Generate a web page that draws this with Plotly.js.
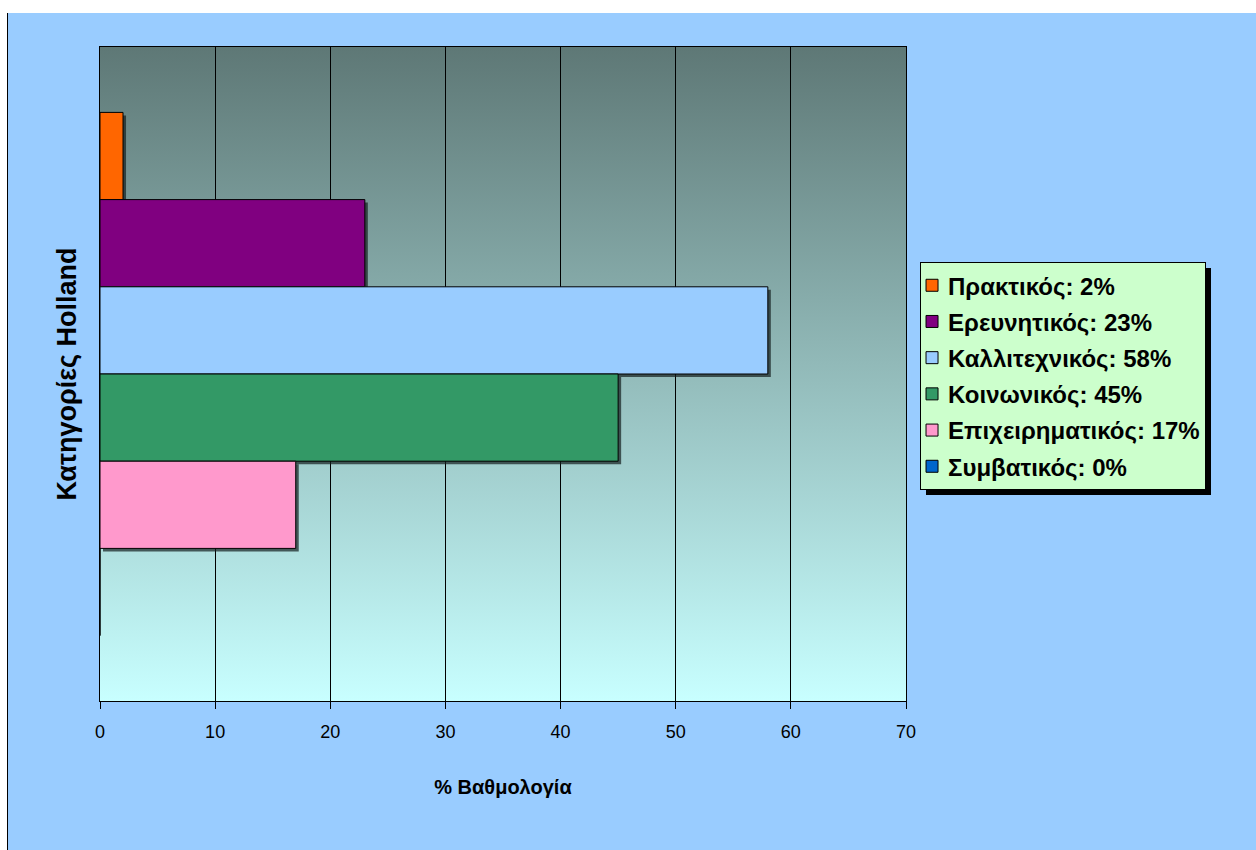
<!DOCTYPE html>
<html>
<head>
<meta charset="utf-8">
<script src="https://cdn.plot.ly/plotly-3.0.1.min.js"></script>
<style>
  html, body { margin:0; padding:0; background:#ffffff; width:1256px; height:850px; overflow:hidden; }
  #wrap { position:absolute; left:7px; top:13px; border-left:1px solid #000; }
  #plot { width:1248px; height:837px; }
</style>
</head>
<body>
<div id="wrap"><div id="plot"></div></div>
<script>
// ---- data ----
const categories = ['Holland'];
const seriesNames = ['Πρακτικός', 'Ερευνητικός', 'Καλλιτεχνικός', 'Κοινωνικός', 'Επιχειρηματικός', 'Συμβατικός'];
const seriesValues = [2, 23, 58, 45, 17, 0];
const seriesColors = ['#FF6600', '#800080', '#99CCFF', '#339966', '#FF99CC', '#0066CC'];
const xTickValues = [0, 10, 20, 30, 40, 50, 60, 70];

const FONT = '"Liberation Sans", Arial, sans-serif';

const traces = seriesNames.map((name, i) => ({
  type: 'bar',
  orientation: 'h',
  name: name + ': ' + seriesValues[i] + '%',
  legendgroup: 'g' + i,
  y: categories,
  x: [seriesValues[i]],
  marker: { color: seriesColors[i], line: { color: '#000000', width: 1 } },
  hoverinfo: 'x+name'
}));

const gradSvg = '<svg xmlns="http://www.w3.org/2000/svg" width="100" height="100" preserveAspectRatio="none">' +
  '<defs><linearGradient id="g" x1="0" y1="0" x2="0" y2="1">' +
  '<stop offset="0" stop-color="#5E7876"/><stop offset="1" stop-color="#C8FFFF"/>' +
  '</linearGradient></defs><rect width="100" height="100" fill="url(#g)"/></svg>';
const gradUri = 'data:image/svg+xml;base64,' + btoa(gradSvg);

const layout = {
  width: 1248,
  height: 837,
  margin: { l: 92, r: 350, t: 34, b: 149 },
  paper_bgcolor: '#99CCFF',
  plot_bgcolor: 'rgba(0,0,0,0)',
  barmode: 'group',
  bargap: 0.2,
  bargroupgap: 0,
  font: { family: FONT, color: '#000000', size: 18 },
  showlegend: true,
  legend: {
    x: 1.0174, xanchor: 'left',
    y: 0.671, yanchor: 'top',
    bgcolor: '#CCFFCC',
    bordercolor: '#000000',
    borderwidth: 1,
    font: { family: FONT, size: 24, color: '#000000', weight: 'bold' },
    traceorder: 'grouped',
    tracegroupgap: 2
  },
  xaxis: {
    range: [0, 70],
    tickvals: xTickValues,
    ticktext: xTickValues.map(String),
    showgrid: true,
    gridcolor: '#000000',
    gridwidth: 1,
    zeroline: false,
    showline: true,
    linecolor: '#000000',
    linewidth: 1,
    mirror: true,
    ticks: 'outside',
    ticklen: 7,
    tickcolor: '#000000',
    ticklabelstandoff: 7,
    tickfont: { family: FONT, size: 18, color: '#000000' },
    title: { text: '% Βαθμολογία', font: { family: FONT, size: 20, weight: 'bold', color: '#000000' }, standoff: 39 },
    fixedrange: true
  },
  yaxis: {
    type: 'category',
    autorange: 'reversed',
    showticklabels: false,
    ticks: '',
    showgrid: false,
    zeroline: false,
    showline: true,
    linecolor: '#000000',
    linewidth: 1,
    mirror: true,
    title: { text: 'Κατηγορίες Holland', font: { family: FONT, size: 27, weight: 'bold', color: '#000000' }, standoff: 14 },
    fixedrange: true
  },
  images: [{
    source: gradUri,
    xref: 'paper', yref: 'paper',
    x: 0, y: 1, sizex: 1, sizey: 1,
    xanchor: 'left', yanchor: 'top',
    sizing: 'stretch',
    layer: 'below'
  }]
};

Plotly.newPlot('plot', traces, layout, { displayModeBar: false, staticPlot: true }).then(gd => {
  // soft drop shadows behind the bars, cloned from the library-drawn bar paths
  gd.querySelectorAll('.barlayer .point path').forEach(p => {
    let bb = null;
    try { bb = p.getBBox(); } catch (e) {}
    if (!bb || bb.width < 1) return;
    const s = p.cloneNode(false);
    s.setAttribute('transform', 'translate(3,3)');
    s.style.fill = 'rgba(20,30,30,0.7)';
    s.style.stroke = 'none';
    s.style.opacity = 1;
    p.parentNode.insertBefore(s, p);
  });
  // tighten legend entries (symbol and text closer to the left edge)
  const textShift = 13, symShift = 9;
  gd.querySelectorAll('.legend .legendtext').forEach(t => {
    const x = parseFloat(t.getAttribute('x') || '0');
    t.setAttribute('x', x - textShift);
  });
  gd.querySelectorAll('.legend .legendpoints path').forEach(p => {
    const tr = p.getAttribute('transform') || '';
    p.setAttribute('transform', 'translate(' + (-symShift) + ',0) ' + tr);
  });
  const bg = gd.querySelector('.legend .bg');
  const lg = gd.querySelector('.legend');
  if (bg && lg) {
    const w = parseFloat(bg.getAttribute('width'));
    if (!isNaN(w)) bg.setAttribute('width', w - textShift);
    const sh = bg.cloneNode(false);
    sh.setAttribute('class', 'legend-shadow');
    sh.style.fill = '#000000';
    sh.style.stroke = 'none';
    sh.setAttribute('transform', 'translate(5,5)');
    lg.insertBefore(sh, lg.firstChild);
  }
});
</script>
</body>
</html>
